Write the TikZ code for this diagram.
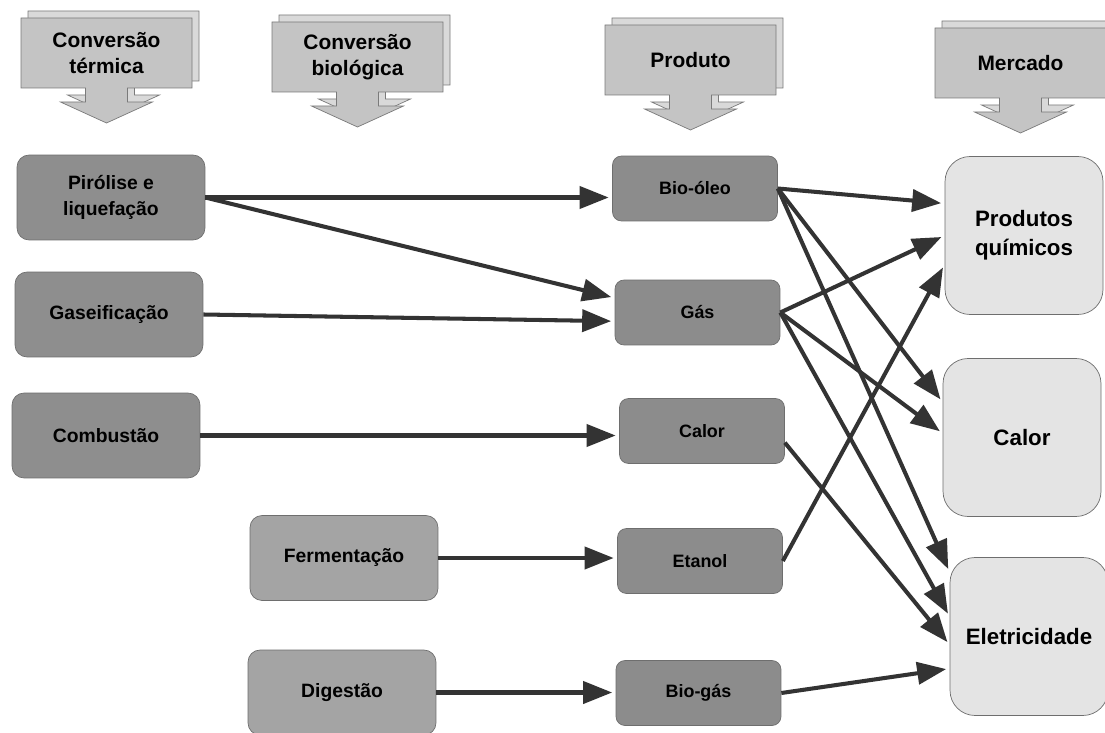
\documentclass[tikz,border=0pt]{standalone}
\usepackage{fontspec}
\setmainfont{Liberation Sans}
\usetikzlibrary{arrows.meta}

\definecolor{headFill}{HTML}{C4C4C4}
\definecolor{headBack}{HTML}{D9D9D9}
\definecolor{headLine}{HTML}{7A7A7A}
\definecolor{procFill}{HTML}{8E8E8E}
\definecolor{bioFill}{HTML}{A4A4A4}
\definecolor{prodFill}{HTML}{8C8C8C}
\definecolor{mktFill}{HTML}{E4E4E4}
\definecolor{boxLine}{HTML}{6E6E6E}
\definecolor{flowLine}{HTML}{333333}

\def\headWidth{171}
\def\headHeight{70}
\def\headShaft{21}
\def\headNeck{14}
\def\headWing{46}
\def\headTip{35}

\tikzset{
    proc/.style = {draw = boxLine, fill = procFill, rounded corners = 0.24cm,
        minimum width = 3.76cm, minimum height = 1.7cm, align = center,
        font = \fontsize{11}{14.5}\selectfont\bfseries},
    bioproc/.style = {proc, fill = bioFill},
    prod/.style = {draw = boxLine, fill = prodFill, rounded corners = 0.18cm,
        minimum width = 3.3cm, minimum height = 1.3cm,
        font = \fontsize{10.2}{12}\selectfont\bfseries},
    mkt/.style = {draw = boxLine, fill = mktFill, rounded corners = 0.5cm,
        minimum width = 3.16cm, minimum height = 3.16cm, align = center,
        font = \fontsize{12.7}{16.5}\selectfont\bfseries},
    headtext/.style = {align = center, font = \fontsize{11.9}{15}\selectfont\bfseries},
    flow/.style = {draw = flowLine, line width = 2.3pt, shorten >= 2pt,
        -{Triangle[length = 0.58cm, width = 0.44cm]}},
}

\begin{document}
\begin{tikzpicture}[x = 0.02cm, y = -0.02cm]
    \useasboundingbox (0,0) rectangle (1105,733);
    \fill [white] (0,0) rectangle (1105,733);
    %% headers
    \foreach \hx/\hy/\hname/\htext in {
        21/18/hterm/{Conversão\\térmica},
        272/22/hbio/{Conversão\\biológica},
        605/25/hprod/{Produto},
        935/28/hmkt/{Mercado}} {
        \foreach \dx/\dy/\hfill in {7/-7/headBack, 0/0/headFill} {
            \draw [draw = headLine, fill = \hfill]
            (\hx+\dx,\hy+\dy)
            -- ++(\headWidth,0)
            -- ++(0,\headHeight)
            -- ++({-\headWidth/2+\headShaft},0)
            -- ++(0,\headNeck)
            -- ++({\headWing-\headShaft},0)
            -- ++(-\headWing,{\headTip-\headNeck})
            -- ++(-\headWing,{\headNeck-\headTip})
            -- ++({\headWing-\headShaft},0)
            -- ++(0,-\headNeck)
            -- ++({-\headWidth/2+\headShaft},0)
            -- cycle
            ;
        }
        \node [headtext] (\hname) at ({\hx+\headWidth/2},{\hy+\headHeight/2}) {\htext};
    }
    %% conversion
    \node [proc] (pir) at (111,197.5) {Pirólise e\\liquefação};
    \node [proc] (gase) at (109,314.5) {Gaseificação};
    \node [proc] (comb) at (106,435.5) {Combustão};
    \node [bioproc] (ferm) at (344,558) {Fermentação};
    \node [bioproc] (dig) at (342,692.5) {Digestão};
    %% products
    \node [prod] (bio) at (695,188.5) {Bio-óleo};
    \node [prod] (gas) at (697.5,312.5) {Gás};
    \node [prod] (calp) at (702,431) {Calor};
    \node [prod] (eta) at (700,561) {Etanol};
    \node [prod] (biog) at (698.5,693) {Bio-gás};
    %% market
    \node [mkt] (pq) at (1024,235.5) {Produtos\\químicos};
    \node [mkt] (calm) at (1022,437.5) {Calor};
    \node [mkt] (ele) at (1029,636.5) {Eletricidade};
    %% flows
    \draw [flow] (pir.east) -- (pir.east -| bio.west);
    \draw [flow] (pir.east) -- (gas.170);
    \draw [flow] (gase.east) -- (gas.186);
    \draw [flow] (comb.east) -- (comb.east -| calp.west);
    \draw [flow] (ferm.east) -- (ferm.east -| eta.west);
    \draw [flow] (dig.east) -- (dig.east -| biog.west);
    \draw [flow] (bio.east) -- (pq.158);
    \draw [flow] (bio.east) -- (calm.156);
    \draw [flow] (bio.east) -- (ele.141);
    \draw [flow] (gas.east) -- (pq.west);
    \draw [flow] (gas.east) -- (calm.177);
    \draw [flow] (gas.east) -- (ele.166);
    \draw [flow] (calp.352) -- (ele.186);
    \draw [flow] (eta.east) -- (pq.200);
    \draw [flow] (biog.east) -- (ele.202);
\end{tikzpicture}
\end{document}
